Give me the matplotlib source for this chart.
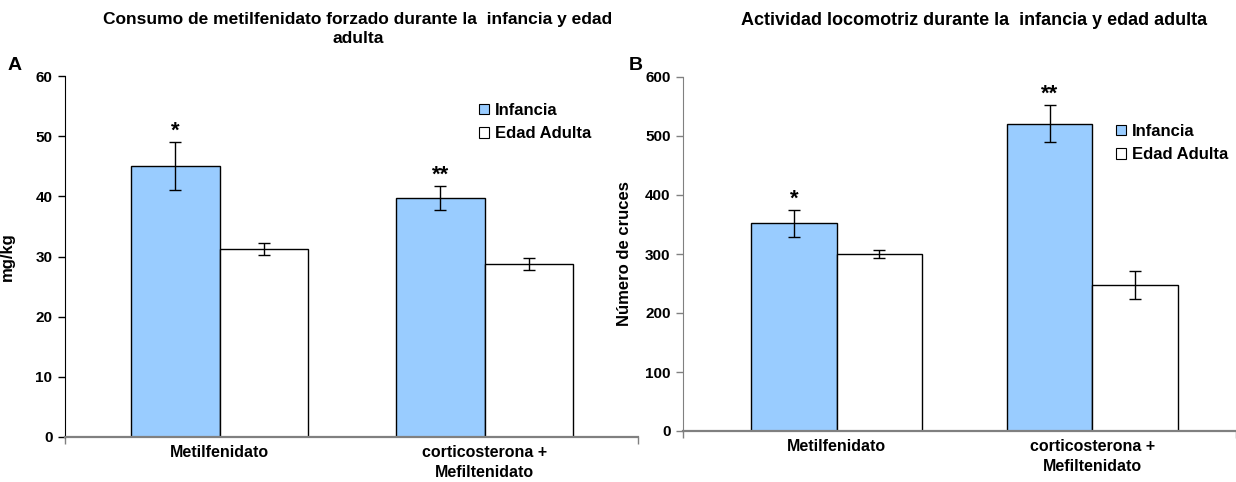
import matplotlib
matplotlib.use("Agg")
import matplotlib.pyplot as plt
import numpy as np
from matplotlib.patches import Patch

plt.rcParams['font.family'] = ['Liberation Sans', 'DejaVu Sans']
plt.rcParams['font.weight'] = 'bold'

categories = ["Metilfenidato", "corticosterona +\nMefiltenidato"]
series_names = ["Infancia", "Edad Adulta"]

# Panel A: consumo (mg/kg)
a_infancia = [45.1, 39.8]
a_infancia_err = [4.0, 2.0]
a_adulta = [31.3, 28.7]
a_adulta_err = [1.0, 1.0]
a_stars = ["*", "**"]

# Panel B: actividad locomotriz (numero de cruces)
b_infancia = [352, 521]
b_infancia_err = [23, 32]
b_adulta = [300, 247]
b_adulta_err = [7, 24]
b_stars = ["*", "**"]

blue = "#99CCFF"
W, H = 1236, 482

fig = plt.figure(figsize=(W / 100, H / 100), dpi=100)

def fx(px):
    return px / W

def fy(py):
    return 1 - py / H

def panel(rect, inf, inf_err, adu, adu_err, stars, ylim, yticks, ylabel, title,
          title_xy, title_size, letter, letter_xy, xlim, leg_anchor, leftcol,
          ylab_x):
    ax = fig.add_axes(rect)
    x = np.arange(len(categories))
    w = 0.334
    ax.bar(x - w/2, inf, w, color=blue, edgecolor="black", linewidth=1.0, zorder=2)
    ax.bar(x + w/2, adu, w, color="white", edgecolor="black", linewidth=1.0, zorder=2)
    ax.errorbar(x - w/2, inf, yerr=inf_err, fmt="none", ecolor="black",
                elinewidth=1.0, capsize=4, capthick=1.0, zorder=3)
    ax.errorbar(x + w/2, adu, yerr=adu_err, fmt="none", ecolor="black",
                elinewidth=1.0, capsize=4, capthick=1.0, zorder=3)
    for xi, v, e, s in zip(x, inf, inf_err, stars):
        ax.annotate(s, xy=(xi - w/2, v + e), xytext=(0, 0),
                    textcoords="offset points", ha="center", va="bottom",
                    fontsize=16, fontweight="bold")
    ax.set_xlim(*xlim)
    ax.set_ylim(*ylim)
    ax.set_yticks(yticks)
    ax.set_xticks(x)
    ax.set_xticklabels(categories, fontsize=11.5, fontweight="bold",
                       linespacing=1.35)
    ax.tick_params(axis="x", length=0, pad=6)
    ax.tick_params(axis="y", direction="out", length=5, width=1, labelsize=11,
                   color=leftcol, pad=4)
    for lab in ax.get_yticklabels():
        lab.set_fontweight("bold")
    ax.set_xticks([xlim[0], xlim[1]], minor=True)
    ax.tick_params(axis="x", which="minor", direction="out", length=5, width=1,
                   color="#808080")
    ax.spines["top"].set_visible(False)
    ax.spines["right"].set_visible(False)
    ax.spines["left"].set_color(leftcol)
    ax.spines["bottom"].set_color("#808080")
    ax.spines["bottom"].set_linewidth(1.6)
    ax.set_ylabel(ylabel, fontsize=12, fontweight="bold")
    ax.yaxis.set_label_coords(ylab_x, 0.5)
    fig.text(fx(title_xy[0]), fy(title_xy[1]), title, fontsize=title_size,
             fontweight="bold", ha="center", va="top", linespacing=1.3)
    fig.text(fx(letter_xy[0]), fy(letter_xy[1]), letter, fontsize=14,
             fontweight="bold", ha="left", va="center")
    handles = [Patch(facecolor=blue, edgecolor="black", linewidth=0.8),
               Patch(facecolor="white", edgecolor="black", linewidth=0.8)]
    ax.legend(handles, series_names, loc="upper left",
              bbox_to_anchor=(fx(leg_anchor[0]), fy(leg_anchor[1])),
              bbox_transform=fig.transFigure, frameon=False,
              prop={"weight": "bold", "size": 12}, handlelength=0.6,
              handleheight=0.6, handletextpad=0.35, labelspacing=0.5,
              borderpad=0, borderaxespad=0)
    return ax

panel([fx(65), fy(437), fx(638 - 65), (437 - 76) / H], a_infancia, a_infancia_err,
      a_adulta, a_adulta_err, a_stars, (0, 60), np.arange(0, 61, 10), "mg/kg",
      "Consumo de metilfenidato forzado durante la  infancia y edad\nadulta",
      (358, 12), 12.5, "A", (8, 66), (-0.583, 1.579), (479, 103), "black", -0.087)

panel([fx(683), fy(431), fx(1236 - 683), (431 - 77) / H], b_infancia, b_infancia_err,
      b_adulta, b_adulta_err, b_stars, (0, 600), np.arange(0, 601, 100),
      "Número de cruces",
      "Actividad locomotriz durante la  infancia y edad adulta",
      (974, 12), 13, "B", (629, 66), (-0.601, 1.562), (1116, 124), "#808080", -0.092)

fig.savefig("out.png", dpi=100, facecolor="white")
